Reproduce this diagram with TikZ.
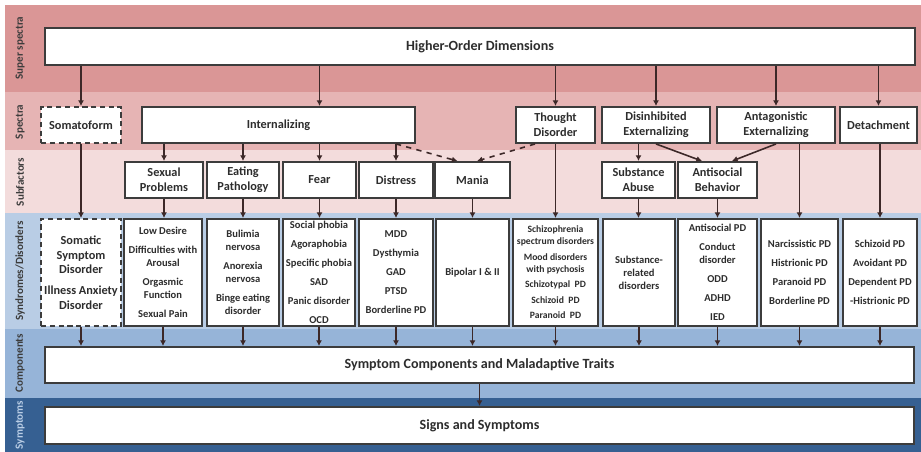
\documentclass[tikz,border=0pt]{standalone}
\usepackage{fontspec}
\setmainfont{Carlito}
\usetikzlibrary{arrows.meta}
\definecolor{bandsup}{RGB}{218,150,150}
\definecolor{bandspe}{RGB}{230,180,180}
\definecolor{bandsub}{RGB}{243,220,220}
\definecolor{bandsyn}{RGB}{185,205,229}
\definecolor{bandcmp}{RGB}{150,180,216}
\definecolor{bandsym}{RGB}{54,96,146}
\definecolor{edgecol}{RGB}{60,60,60}
\definecolor{linecol}{RGB}{60,40,40}
\definecolor{txtcol}{RGB}{45,45,45}
\tikzset{
  box/.style={draw=edgecol, fill=white, line width=1.1pt, inner sep=1pt,
    align=center, text=txtcol, font=\bfseries\fontsize{7}{8.4}\selectfont},
  dbox/.style={box, dash pattern=on 3pt off 2pt},
  bigbar/.style={box, minimum width=17.4cm, font=\bfseries\fontsize{8}{9.4}\selectfont},
  spec/.style={box, minimum height=0.72cm},
  list/.style={box, minimum height=2.14cm, font=\bfseries\fontsize{6}{7.4}\selectfont},
  side/.style={rotate=90, text=edgecol, font=\bfseries\fontsize{6.3}{7}\selectfont},
  arr/.style={draw=linecol, line width=0.9pt, -{Latex[length=3.2pt,width=3.4pt]}}
}
\begin{document}
\begin{tikzpicture}[x=0.02cm, y=-0.02cm]
\useasboundingbox (0,0) rectangle (921,452);
% bands
\fill[bandsup] (5,5) rectangle (921,92);
\fill[bandspe] (5,92) rectangle (921,150);
\fill[bandsub] (5,150) rectangle (921,213);
\fill[bandsyn] (5,213) rectangle (921,329);
\fill[bandcmp] (5,329) rectangle (921,398);
\fill[bandsym] (5,398) rectangle (921,452);
%
\node[side] (lsup) at (20,48) {Super spectra};
\node[side] (lspe) at (20,122) {Spectra};
\node[side] (lsub) at (20,182) {Subfactors};
\node[side] (lsyn) at (20,271) {Syndromes/Disorders};
\node[side] (lcmp) at (20,363) {Components};
\node[side, text=bandsyn] (lsym) at (20,425) {Symptoms};
%
\node[bigbar, minimum height=0.74cm] (hod) at (480,46.5) {Higher-Order Dimensions};
%
\node[spec, dbox, minimum width=1.6cm] (som) at (81,125) {Somatoform};
\node[spec, minimum width=5.46cm] (int) at (278.5,125) {Internalizing};
\node[spec, minimum width=1.58cm] (tho) at (555.5,125) {Thought\\Disorder};
\node[spec, minimum width=2.16cm] (dis) at (656,125) {Disinhibited\\Externalizing};
\node[spec, minimum width=2.36cm] (ant) at (776,125) {Antagonistic\\Externalizing};
\node[spec, minimum width=1.54cm] (det) at (878.5,125) {Detachment};
%
\node[spec, minimum width=1.56cm] (sex) at (164,180) {Sexual\\Problems};
\node[spec, minimum width=1.44cm] (eat) at (243,180) {Eating\\Pathology};
\node[spec, minimum width=1.46cm] (fea) at (319.5,180) {Fear};
\node[spec, minimum width=1.48cm] (dst) at (396,180) {Distress};
\node[spec, minimum width=1.5cm] (man) at (472.5,180) {Mania};
\node[spec, minimum width=1.46cm] (sub) at (638.5,180) {Substance\\Abuse};
\node[spec, minimum width=1.58cm] (asb) at (717.5,180) {Antisocial\\Behavior};
%
\node[list, dbox, minimum width=1.6cm] (dso) at (81,272.5)
  {Somatic\\Symptom\\Disorder\\[3.4pt]Illness Anxiety\\Disorder};
\node[list, minimum width=1.56cm] (dsx) at (163,272.5)
  {Low Desire\\[3.4pt]Difficulties with\\Arousal\\[3.4pt]Orgasmic\\Function\\[3.4pt]Sexual Pain};
\node[list, minimum width=1.44cm] (dea) at (243,272.5)
  {Bulimia\\nervosa\\[3.4pt]Anorexia\\nervosa\\[3.4pt]Binge eating\\disorder};
\node[list, minimum width=1.44cm] (dfe) at (319,272.5)
  {Social phobia\\[3.4pt]Agoraphobia\\[3.4pt]Specific phobia\\[3.4pt]SAD\\[3.4pt]Panic disorder\\[3.4pt]OCD};
\node[list, minimum width=1.48cm] (ddi) at (396,272.5)
  {MDD\\[3.4pt]Dysthymia\\[3.4pt]GAD\\[3.4pt]PTSD\\[3.4pt]Borderline PD};
\node[list, minimum width=1.46cm] (dbp) at (472.5,272.5) {Bipolar I \& II};
\node[list, minimum width=1.7cm, font=\bfseries\fontsize{5.5}{6.8}\selectfont] (dth) at (555.5,272.5)
  {Schizophrenia\\spectrum disorders\\[2pt]Mood disorders\\with psychosis\\[2pt]Schizotypal\ \ PD\\[2pt]Schizoid\ \ PD\\[2pt]Paranoid\ \ PD};
\node[list, minimum width=1.44cm] (dsu) at (639,272.5) {Substance-\\related\\disorders};
\node[list, minimum width=1.58cm] (das) at (717.5,272.5)
  {Antisocial PD\\[3.4pt]Conduct\\disorder\\[3.4pt]ODD\\[3.4pt]ADHD\\[3.4pt]IED};
\node[list, minimum width=1.54cm] (dna) at (799.5,272.5)
  {Narcissistic PD\\[3.4pt]Histrionic PD\\[3.4pt]Paranoid PD\\[3.4pt]Borderline PD};
\node[list, minimum width=1.48cm] (dsz) at (880,272.5)
  {Schizoid PD\\[3.4pt]Avoidant PD\\[3.4pt]Dependent PD\\[3.4pt]-Histrionic PD};
%
\node[bigbar, minimum width=17.38cm, minimum height=0.72cm] (cmp) at (479.5,365) {Symptom Components and Maladaptive Traits};
\node[bigbar, minimum width=17.38cm, minimum height=0.74cm] (sig) at (479.5,425.5) {Signs and Symptoms};
%
% higher-order to spectra
\draw[arr] (hod.south -| som.north) -- (som.north);
\draw[arr] (hod.south -| fea.north) -- (int.north -| fea.north);
\foreach \n in {tho,dis,ant,det}
  \draw[arr] (hod.south -| \n.north) -- (\n.north);
% spectra to subfactors
\foreach \n in {sex,eat,fea,dst}
  \draw[arr] (int.south -| \n.north) -- (\n.north);
\draw[arr, dashed] (int.south -| dst.north) -- ([xshift=-0.3cm]man.north);
\draw[arr, dashed] ([xshift=-0.41cm]tho.south) -- ([xshift=0.09cm]man.north);
\draw[arr] (dis.south -| sub.north) -- (sub.north);
\draw[arr] (dis.south) -- ([xshift=-0.31cm]asb.north);
\draw[arr] (ant.south) -- ([xshift=0.29cm]asb.north);
% straight down to disorders
\draw[arr] (som.south) -- (dso.north);
\draw[arr] (tho.south) -- (dth.north);
\draw[arr] (ant.south -| dna.north) -- (dna.north);
\draw[arr] (det.south -| dsz.north) -- (dsz.north);
\draw[arr] (sex.south) -- (sex.south |- dsx.north);
\draw[arr] (eat.south) -- (dea.north);
\draw[arr] (fea.south) -- (fea.south |- dfe.north);
\draw[arr] (dst.south) -- (ddi.north);
\draw[arr] (man.south) -- (dbp.north);
\draw[arr] (sub.south) -- (sub.south |- dsu.north);
\draw[arr] (asb.south) -- (das.north);
% disorders to components
\foreach \n in {dso,dsx,dea,dfe,ddi,dbp,dth,dsu,das,dna,dsz}
  \draw[arr] (\n.south) -- (cmp.north -| \n.south);
\draw[arr] (cmp.south) -- (sig.north);
\end{tikzpicture}
\end{document}
